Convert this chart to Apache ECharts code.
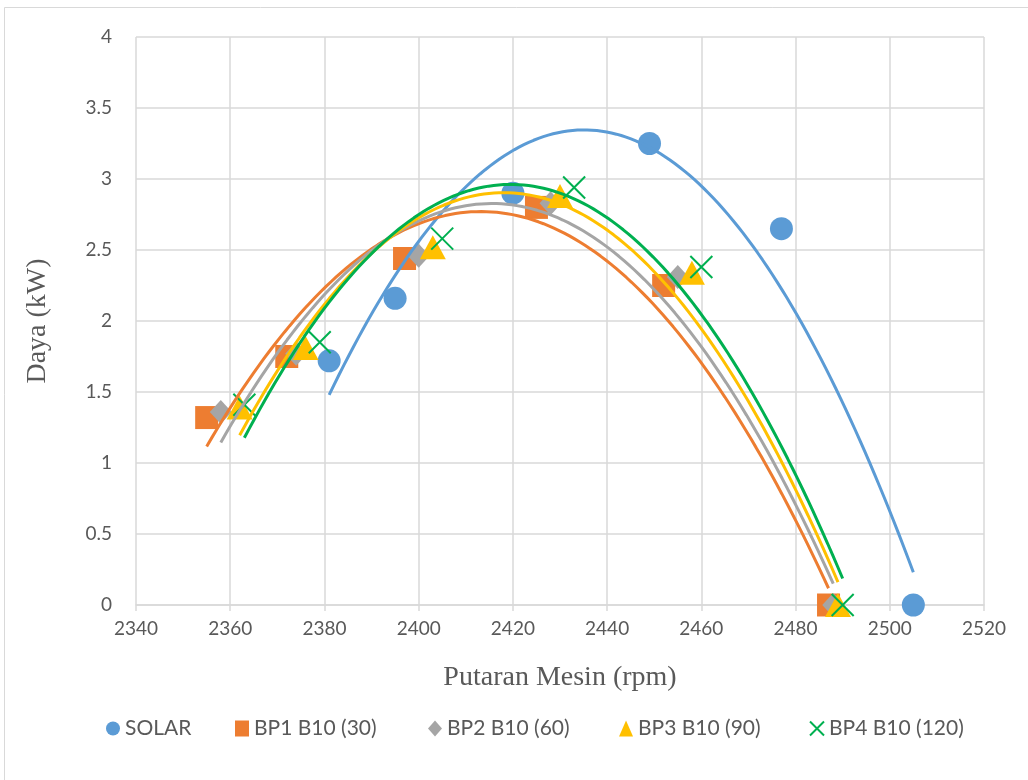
<!DOCTYPE html>
<html>
<head>
<meta charset="utf-8">
<script src="https://cdn.jsdelivr.net/npm/echarts@6/dist/echarts.min.js"></script>
<style>
html,body{margin:0;padding:0;background:#fff;}
#chart{width:1028px;height:780px;}
</style>
</head>
<body>
<div id="chart"></div>
<script>
// ---- data ----
var seriesNames = ['SOLAR', 'BP1 B10 (30)', 'BP2 B10 (60)', 'BP3 B10 (90)', 'BP4 B10 (120)'];
var rpmSolar = [2381, 2395, 2420, 2449, 2477, 2505];
var kwSolar  = [1.72, 2.16, 2.90, 3.25, 2.65, 0];
var rpmBP1 = [2355, 2372, 2397, 2425, 2452, 2487];
var kwBP1  = [1.32, 1.75, 2.44, 2.80, 2.25, 0];
var rpmBP2 = [2358, 2374, 2400, 2428, 2455, 2488];
var kwBP2  = [1.36, 1.77, 2.46, 2.83, 2.31, 0];
var rpmBP3 = [2362, 2376, 2403, 2430, 2458, 2489];
var kwBP3  = [1.39, 1.81, 2.52, 2.88, 2.34, 0];
var rpmBP4 = [2363, 2379, 2405, 2433, 2460, 2490];
var kwBP4  = [1.41, 1.85, 2.58, 2.94, 2.38, 0];
var xTicks = {min: 2340, max: 2520, step: 20};
var yTicks = {min: 0, max: 4, step: 0.5};
var xTitle = 'Putaran Mesin (rpm)';
var yTitle = 'Daya (kW)';

var colors = ['#5B9BD5', '#ED7D31', '#A5A5A5', '#FFC000', '#00B050'];
var rpmAll = [rpmSolar, rpmBP1, rpmBP2, rpmBP3, rpmBP4];
var kwAll = [kwSolar, kwBP1, kwBP2, kwBP3, kwBP4];

// Polynomial (order 2) least-squares trendline, as in the original spreadsheet chart
function polyTrend(xs, ys) {
  var n = xs.length, mx = 0;
  for (var i = 0; i < n; i++) mx += xs[i];
  mx /= n;
  var S = [0,0,0,0,0], T = [0,0,0];
  for (i = 0; i < n; i++) {
    var u = xs[i] - mx, p = 1;
    for (var k = 0; k < 5; k++) { S[k] += p; if (k < 3) T[k] += p * ys[i]; p *= u; }
  }
  var M = [[S[0],S[1],S[2],T[0]],[S[1],S[2],S[3],T[1]],[S[2],S[3],S[4],T[2]]];
  for (var c = 0; c < 3; c++) {
    for (var r = c + 1; r < 3; r++) {
      var f = M[r][c] / M[c][c];
      for (var j = c; j < 4; j++) M[r][j] -= f * M[c][j];
    }
  }
  var coef = [0,0,0];
  for (r = 2; r >= 0; r--) {
    var s = M[r][3];
    for (j = r + 1; j < 3; j++) s -= M[r][j] * coef[j];
    coef[r] = s / M[r][r];
  }
  var lo = Math.min.apply(null, xs), hi = Math.max.apply(null, xs), pts = [];
  var steps = 120;
  for (i = 0; i <= steps; i++) {
    var x = lo + (hi - lo) * i / steps, uu = x - mx;
    pts.push([x, coef[0] + coef[1]*uu + coef[2]*uu*uu]);
  }
  return pts;
}

var symbols = ['circle', 'rect', 'diamond', 'triangle', 'path://M2,2L20,20M20,2L2,20'];
var symbolSizes = [23, 23, [22, 24], [26, 24], 22];

var series = [];
for (var s = 0; s < 5; s++) {
  var pts = rpmAll[s].map(function (x, i) { return [x, kwAll[s][i]]; });
  var isX = s === 4;
  series.push({
    name: seriesNames[s],
    type: 'scatter',
    data: pts,
    symbol: symbols[s],
    symbolSize: symbolSizes[s],
    z: 2,
    itemStyle: isX ? {color: 'rgba(0,0,0,0)', borderColor: colors[s], borderWidth: 2, opacity: 1} : {color: colors[s], opacity: 1}
  });
}
for (s = 0; s < 5; s++) {
  series.push({
    type: 'line',
    data: polyTrend(rpmAll[s], kwAll[s]),
    showSymbol: false,
    symbol: 'none',
    z: 3,
    silent: true,
    lineStyle: {color: colors[s], width: 3},
    itemStyle: {color: colors[s]}
  });
}

var legendLefts = [101, 230, 423, 614, 804];
var legends = seriesNames.map(function (n, i) {
  return {
    data: [n], left: legendLefts[i], top: 713, itemWidth: 14, itemHeight: 16, itemGap: 0,
    textStyle: {fontFamily: 'Lato', fontSize: 21, color: '#595959'}
  };
});

var chart = echarts.init(document.getElementById('chart'), null, {renderer: 'canvas'});
chart.setOption({
  animation: false,
  backgroundColor: '#fff',
  grid: {left: 136, right: 44, top: 37, bottom: 175},
  legend: legends,
  graphic: [{type: 'rect', shape: {x: 4.5, y: 7.5, width: 1100, height: 1000}, style: {fill: 'none', stroke: '#d9d9d9', lineWidth: 1}}],
  xAxis: {
    type: 'value', min: xTicks.min, max: xTicks.max, interval: xTicks.step,
    name: xTitle, nameLocation: 'middle', nameGap: 59,
    nameTextStyle: {fontFamily: 'Liberation Serif', fontSize: 28, color: '#595959'},
    axisLine: {show: true, lineStyle: {color: '#d9d9d9', width: 1.5}},
    axisTick: {show: true, length: 6, lineStyle: {color: '#d9d9d9', width: 1.5}},
    axisLabel: {fontFamily: 'Lato', fontSize: 19, color: '#595959', margin: 14,
      formatter: function (v) { return String(v); }},
    splitLine: {show: true, lineStyle: {color: '#d9d9d9', width: 1.5}}
  },
  yAxis: {
    type: 'value', min: yTicks.min, max: yTicks.max, interval: yTicks.step,
    name: yTitle, nameLocation: 'middle', nameGap: 84,
    nameTextStyle: {fontFamily: 'Liberation Serif', fontSize: 28, color: '#595959'},
    axisLine: {show: false},
    axisTick: {show: false},
    axisLabel: {fontFamily: 'Lato', fontSize: 19, color: '#595959', margin: 24},
    splitLine: {show: true, lineStyle: {color: '#d9d9d9', width: 1.5}}
  },
  series: series
});
</script>
</body>
</html>
